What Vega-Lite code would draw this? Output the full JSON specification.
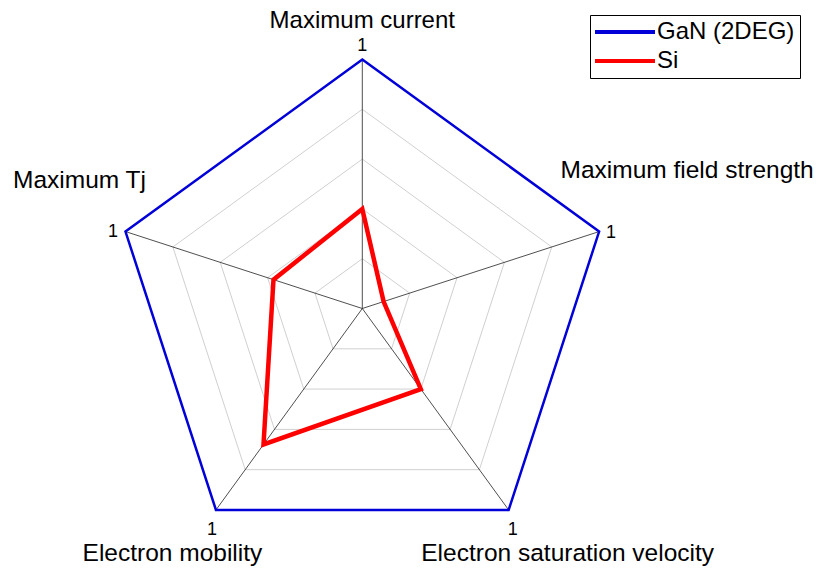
{
  "$schema": "https://vega.github.io/schema/vega-lite/v6.json",
  "width": 819,
  "height": 573,
  "padding": 0,
  "autosize": "none",
  "background": "white",
  "config": {"view": {"stroke": null}, "font": "Liberation Sans", "text": {"font": "Liberation Sans", "color": "black"}},
  "datasets": {
    "axes": [
      {"axis": "Maximum current", "k": 0},
      {"axis": "Maximum field strength", "k": 1},
      {"axis": "Electron saturation velocity", "k": 2},
      {"axis": "Electron mobility", "k": 3},
      {"axis": "Maximum Tj", "k": 4}
    ],
    "series": [
      {"series": "GaN (2DEG)", "axis": "Maximum current", "k": 0, "value": 1},
      {"series": "GaN (2DEG)", "axis": "Maximum field strength", "k": 1, "value": 1},
      {"series": "GaN (2DEG)", "axis": "Electron saturation velocity", "k": 2, "value": 1},
      {"series": "GaN (2DEG)", "axis": "Electron mobility", "k": 3, "value": 1},
      {"series": "GaN (2DEG)", "axis": "Maximum Tj", "k": 4, "value": 1},
      {"series": "Si", "axis": "Maximum current", "k": 0, "value": 0.4},
      {"series": "Si", "axis": "Maximum field strength", "k": 1, "value": 0.09},
      {"series": "Si", "axis": "Electron saturation velocity", "k": 2, "value": 0.4},
      {"series": "Si", "axis": "Electron mobility", "k": 3, "value": 0.675},
      {"series": "Si", "axis": "Maximum Tj", "k": 4, "value": 0.375}
    ],
    "grid": [
      {"level": 0.2, "k": 0}, {"level": 0.2, "k": 1}, {"level": 0.2, "k": 2}, {"level": 0.2, "k": 3}, {"level": 0.2, "k": 4},
      {"level": 0.4, "k": 0}, {"level": 0.4, "k": 1}, {"level": 0.4, "k": 2}, {"level": 0.4, "k": 3}, {"level": 0.4, "k": 4},
      {"level": 0.6, "k": 0}, {"level": 0.6, "k": 1}, {"level": 0.6, "k": 2}, {"level": 0.6, "k": 3}, {"level": 0.6, "k": 4},
      {"level": 0.8, "k": 0}, {"level": 0.8, "k": 1}, {"level": 0.8, "k": 2}, {"level": 0.8, "k": 3}, {"level": 0.8, "k": 4}
    ]
  },
  "layer": [
    {
      "data": {"name": "grid"},
      "transform": [
        {"calculate": "PI/2 - 2*PI*datum.k/5", "as": "ang"},
        {"calculate": "datum.level*cos(datum.ang)", "as": "px"},
        {"calculate": "datum.level*sin(datum.ang)", "as": "py"}
      ],
      "mark": {"type": "line", "interpolate": "linear-closed", "stroke": "#d0d0d0", "strokeWidth": 1},
      "encoding": {
        "x": {"field": "px", "type": "quantitative", "scale": {"domain": [-1.455, 1.8341], "nice": false, "zero": false}, "axis": null},
        "y": {"field": "py", "type": "quantitative", "scale": {"domain": [-1.0622, 1.239], "nice": false, "zero": false}, "axis": null},
        "detail": {"field": "level", "type": "nominal"},
        "order": {"field": "k", "type": "quantitative"}
      }
    },
    {
      "data": {"name": "axes"},
      "transform": [
        {"calculate": "PI/2 - 2*PI*datum.k/5", "as": "ang"},
        {"calculate": "cos(datum.ang)", "as": "px"},
        {"calculate": "sin(datum.ang)", "as": "py"}
      ],
      "mark": {"type": "rule", "stroke": "#222222", "strokeWidth": 0.8},
      "encoding": {
        "x": {"field": "px", "type": "quantitative"},
        "y": {"field": "py", "type": "quantitative"},
        "x2": {"datum": 0},
        "y2": {"datum": 0}
      }
    },
    {
      "data": {"name": "series"},
      "transform": [
        {"calculate": "PI/2 - 2*PI*datum.k/5", "as": "ang"},
        {"calculate": "datum.value*cos(datum.ang)", "as": "px"},
        {"calculate": "datum.value*sin(datum.ang)", "as": "py"}
      ],
      "encoding": {
        "x": {"field": "px", "type": "quantitative"},
        "y": {"field": "py", "type": "quantitative"},
        "order": {"field": "k", "type": "quantitative"},
        "color": {
          "field": "series", "type": "nominal",
          "scale": {"domain": ["GaN (2DEG)", "Si"], "range": ["#0000d8", "#ff0000"]},
          "legend": {
            "title": null, "orient": "none", "legendX": 590, "legendY": 15,
            "strokeColor": "black", "fillColor": "white", "padding": 5,
            "symbolType": "M-2,0H8", "symbolSize": 144, "symbolStrokeWidth": 4,
            "labelFontSize": 24, "labelFont": "Liberation Sans", "labelColor": "black", "labelOffset": 38,
            "rowPadding": 5,
            "encode": {"symbols": {"update": {"strokeWidth": {"value": 4}}}}
          }
        }
      },
      "layer": [
        {"transform": [{"filter": "datum.series == 'GaN (2DEG)'"}], "mark": {"type": "line", "interpolate": "linear-closed", "strokeJoin": "miter", "strokeWidth": 2.5}},
        {"transform": [{"filter": "datum.series == 'Si'"}], "mark": {"type": "line", "interpolate": "linear-closed", "strokeJoin": "miter", "strokeWidth": 4.5}}
      ]
    },
    {
      "data": {"name": "axes"},
      "transform": [
        {"calculate": "PI/2 - 2*PI*datum.k/5", "as": "ang"},
        {"calculate": "cos(datum.ang)", "as": "px"},
        {"calculate": "sin(datum.ang)", "as": "py"}
      ],
      "encoding": {
        "x": {"field": "px", "type": "quantitative"},
        "y": {"field": "py", "type": "quantitative"}
      },
      "layer": [
        {"transform": [{"filter": "datum.k == 0"}], "mark": {"type": "text", "font": "Liberation Sans", "align": "center", "baseline": "alphabetic", "fontSize": 24, "dy": -32}, "encoding": {"text": {"field": "axis"}}},
        {"transform": [{"filter": "datum.k == 1"}], "mark": {"type": "text", "font": "Liberation Sans", "align": "center", "baseline": "alphabetic", "fontSize": 24.5, "dx": 88, "dy": -54}, "encoding": {"text": {"field": "axis"}}},
        {"transform": [{"filter": "datum.k == 2"}], "mark": {"type": "text", "font": "Liberation Sans", "align": "center", "baseline": "alphabetic", "fontSize": 24.5, "dx": 59, "dy": 51}, "encoding": {"text": {"field": "axis"}}},
        {"transform": [{"filter": "datum.k == 3"}], "mark": {"type": "text", "font": "Liberation Sans", "align": "center", "baseline": "alphabetic", "fontSize": 24.5, "dx": -43.5, "dy": 51}, "encoding": {"text": {"field": "axis"}}},
        {"transform": [{"filter": "datum.k == 4"}], "mark": {"type": "text", "font": "Liberation Sans", "align": "center", "baseline": "alphabetic", "fontSize": 24.5, "dx": -46, "dy": -44}, "encoding": {"text": {"field": "axis"}}},
        {"transform": [{"filter": "datum.k == 0"}], "mark": {"type": "text", "font": "Liberation Sans", "align": "center", "baseline": "alphabetic", "fontSize": 18, "dy": -9}, "encoding": {"text": {"value": "1"}}},
        {"transform": [{"filter": "datum.k == 1"}], "mark": {"type": "text", "font": "Liberation Sans", "align": "center", "baseline": "alphabetic", "fontSize": 18, "dx": 12, "dy": 6.5}, "encoding": {"text": {"value": "1"}}},
        {"transform": [{"filter": "datum.k == 2"}], "mark": {"type": "text", "font": "Liberation Sans", "align": "center", "baseline": "alphabetic", "fontSize": 18, "dx": 4, "dy": 25}, "encoding": {"text": {"value": "1"}}},
        {"transform": [{"filter": "datum.k == 3"}], "mark": {"type": "text", "font": "Liberation Sans", "align": "center", "baseline": "alphabetic", "fontSize": 18, "dx": -4, "dy": 25}, "encoding": {"text": {"value": "1"}}},
        {"transform": [{"filter": "datum.k == 4"}], "mark": {"type": "text", "font": "Liberation Sans", "align": "center", "baseline": "alphabetic", "fontSize": 18, "dx": -12.5, "dy": 5}, "encoding": {"text": {"value": "1"}}}
      ]
    }
  ]
}
